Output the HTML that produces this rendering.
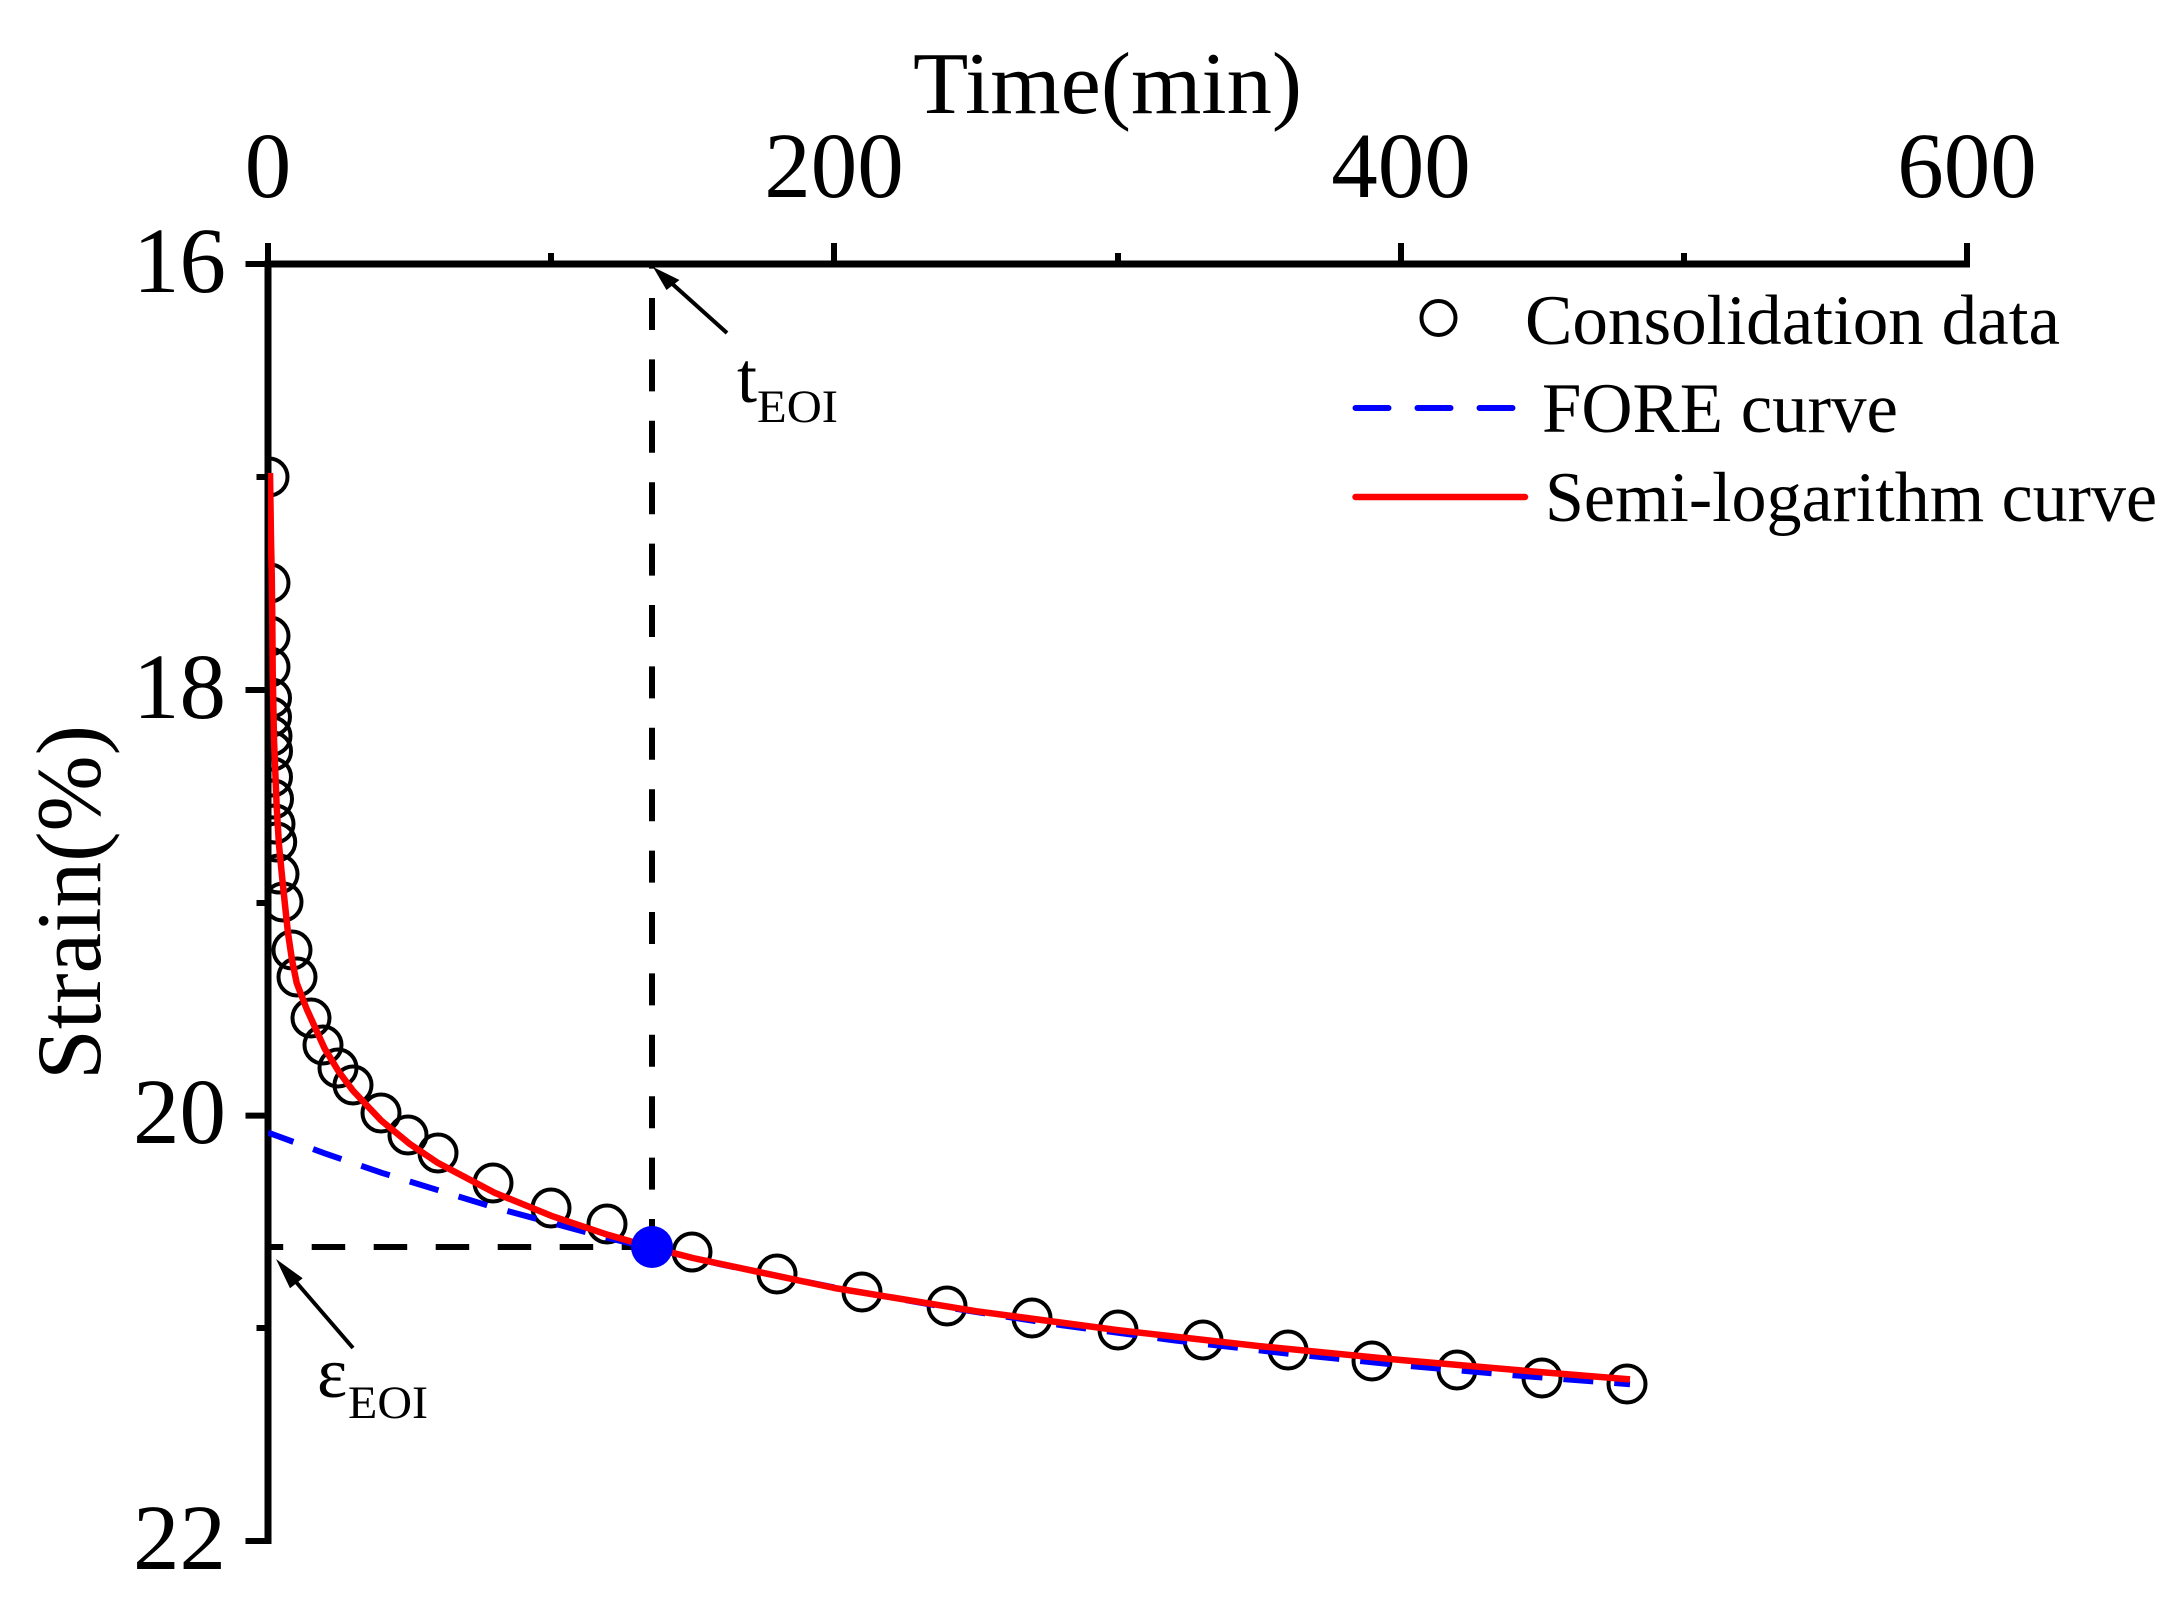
<!DOCTYPE html>
<html>
<head>
<meta charset="utf-8">
<style>
html,body{margin:0;padding:0;background:#fff;}
svg{display:block;}
text{font-family:"Liberation Serif","Times New Roman",serif;fill:#000;}
</style>
</head>
<body>
<svg width="2182" height="1615" viewBox="0 0 2182 1615" xmlns="http://www.w3.org/2000/svg">
<defs>
<clipPath id="plot"><rect x="268" y="264" width="1700" height="1280"/></clipPath>
</defs>
<rect x="0" y="0" width="2182" height="1615" fill="#fff"/>

<!-- Title -->
<text x="913" y="113" font-size="88" textLength="389" lengthAdjust="spacingAndGlyphs">Time(min)</text>

<!-- X tick labels -->
<g font-size="93" text-anchor="middle">
<text x="268" y="197">0</text>
<text x="834" y="197">200</text>
<text x="1401" y="197">400</text>
<text x="1967" y="197">600</text>
</g>

<!-- Y tick labels -->
<g font-size="93" text-anchor="end">
<text x="226" y="292">16</text>
<text x="226" y="718">18</text>
<text x="226" y="1143">20</text>
<text x="226" y="1569">22</text>
</g>

<!-- Y axis label -->
<text transform="translate(100,902.5) rotate(-90)" x="0" y="0" font-size="92" text-anchor="middle" textLength="355" lengthAdjust="spacingAndGlyphs">Strain(%)</text>

<!-- Axes -->
<g stroke="#000" fill="none">
<line x1="264.5" y1="264" x2="1970" y2="264" stroke-width="7"/>
<line x1="268" y1="260.5" x2="268" y2="1544" stroke-width="7"/>
<!-- x major ticks (upward) -->
<g stroke-width="6">
<line x1="268" y1="264" x2="268" y2="243"/>
<line x1="834" y1="264" x2="834" y2="243"/>
<line x1="1401" y1="264" x2="1401" y2="243"/>
<line x1="1967" y1="264" x2="1967" y2="243"/>
<!-- x minor -->
<line x1="551" y1="264" x2="551" y2="253"/>
<line x1="1118" y1="264" x2="1118" y2="253"/>
<line x1="1684" y1="264" x2="1684" y2="253"/>
<!-- y major ticks (left) -->
<line x1="268" y1="264" x2="245.5" y2="264"/>
<line x1="268" y1="690" x2="245.5" y2="690"/>
<line x1="268" y1="1115.6" x2="245.5" y2="1115.6"/>
<line x1="268" y1="1541" x2="245.5" y2="1541"/>
<!-- y minor -->
<line x1="268" y1="477" x2="256.5" y2="477"/>
<line x1="268" y1="903" x2="256.5" y2="903"/>
<line x1="268" y1="1328" x2="256.5" y2="1328"/>
</g>
</g>

<!-- Black dashed guide lines -->
<line x1="652" y1="264" x2="652" y2="1247" stroke="#000" stroke-width="6" stroke-dasharray="32 29.4" stroke-dashoffset="27.4"/>
<line x1="268" y1="1247" x2="652" y2="1247" stroke="#000" stroke-width="6" stroke-dasharray="33.5 28.5" stroke-dashoffset="18.3"/>

<g clip-path="url(#plot)">
<!-- Data circles -->
<g fill="none" stroke="#000" stroke-width="4">
<circle cx="269" cy="477" r="18.5"/>
<circle cx="270" cy="583" r="18.5"/>
<circle cx="270" cy="636" r="18.5"/>
<circle cx="270" cy="667" r="18.5"/>
<circle cx="271.5" cy="698" r="18.5"/>
<circle cx="271.5" cy="717" r="18.5"/>
<circle cx="272" cy="736" r="18.5"/>
<circle cx="272.5" cy="751" r="18.5"/>
<circle cx="272.5" cy="777" r="18.5"/>
<circle cx="273.5" cy="799" r="18.5"/>
<circle cx="275" cy="824" r="18.5"/>
<circle cx="276.7" cy="842" r="18.5"/>
<circle cx="279" cy="874" r="18.5"/>
<circle cx="283" cy="902" r="18.5"/>
<circle cx="292" cy="950" r="18.5"/>
<circle cx="297" cy="977" r="18.5"/>
<circle cx="311" cy="1018" r="18.5"/>
<circle cx="323" cy="1045" r="18.5"/>
<circle cx="338" cy="1068" r="18.5"/>
<circle cx="353" cy="1085" r="18.5"/>
<circle cx="381" cy="1113" r="18.5"/>
<circle cx="408" cy="1135" r="18.5"/>
<circle cx="438" cy="1153" r="18.5"/>
<circle cx="493" cy="1183" r="18.5"/>
<circle cx="551" cy="1208" r="18.5"/>
<circle cx="607" cy="1224" r="18.5"/>
<circle cx="692" cy="1252" r="18.5"/>
<circle cx="777" cy="1274" r="18.5"/>
<circle cx="862" cy="1292" r="18.5"/>
<circle cx="947" cy="1306" r="18.5"/>
<circle cx="1032" cy="1318" r="18.5"/>
<circle cx="1118" cy="1330" r="18.5"/>
<circle cx="1203" cy="1340" r="18.5"/>
<circle cx="1288" cy="1350" r="18.5"/>
<circle cx="1372" cy="1361" r="18.5"/>
<circle cx="1457" cy="1370" r="18.5"/>
<circle cx="1542" cy="1378" r="18.5"/>
<circle cx="1627" cy="1384" r="18.5"/>
</g>

<!-- FORE curve (blue dashed) -->
<polyline fill="none" stroke="#0000FF" stroke-width="6" stroke-dasharray="30 21" stroke-dashoffset="3" stroke-linejoin="round"
points="268,1132.6 324.6,1153.3 381.3,1172.7 494.6,1207.6 607.8,1238 721.1,1264.4 834.4,1287.5 947.7,1307.6 1061,1325.1 1174.2,1340.4 1287.5,1353.6 1400.8,1365.2 1514.1,1375.3 1630,1384.2"/>

<!-- Semi-log curve (red) -->
<polyline fill="none" stroke="#FF0000" stroke-width="6.5" stroke-linejoin="round" stroke-linecap="butt"
points="270,473 271,540 271.7,573 272.3,620 272.7,673 274,740 276.7,807 279,845 281.7,873 285,905 288,933 292,960 296.7,983 306.7,1009 324.6,1048.5 338.8,1071.7 353,1090.7 381.3,1120.6 409.6,1143.8 437.9,1162.9 494.6,1192.7 551.2,1215.8 607.8,1234.8 652,1247.5 692.8,1258 834.4,1288 976,1311.2 1117.6,1330.1 1259.2,1346.1 1400.8,1360 1542.4,1372.3 1630,1379.4"/>
</g>

<!-- EOI point -->
<circle cx="652" cy="1247" r="21" fill="#0000FF"/>

<!-- Arrow t_EOI -->
<line x1="727" y1="333" x2="668" y2="280" stroke="#000" stroke-width="4"/>
<polygon points="653,267 679.5,280 666.5,290" fill="#000"/>
<text x="737" y="402" font-size="72">t</text>
<text x="757" y="422" font-size="47" textLength="81" lengthAdjust="spacingAndGlyphs">EOI</text>

<!-- Arrow eps_EOI -->
<line x1="353" y1="1348" x2="290" y2="1275" stroke="#000" stroke-width="4"/>
<polygon points="276,1259 302.7,1278.3 290,1288.3" fill="#000"/>
<text x="317" y="1397" font-size="72">ε</text>
<text x="348" y="1418" font-size="47" textLength="80" lengthAdjust="spacingAndGlyphs">EOI</text>

<!-- Legend -->
<circle cx="1438.5" cy="318" r="17" fill="none" stroke="#000" stroke-width="4"/>
<text x="1525" y="344" font-size="71" textLength="535" lengthAdjust="spacingAndGlyphs">Consolidation data</text>
<line x1="1355.5" y1="408" x2="1513" y2="408" stroke="#0000FF" stroke-width="6" stroke-dasharray="33 29" stroke-linecap="round"/>
<text x="1542" y="432" font-size="71" textLength="356" lengthAdjust="spacingAndGlyphs">FORE curve</text>
<line x1="1355.5" y1="497" x2="1525" y2="497" stroke="#FF0000" stroke-width="6.5" stroke-linecap="round"/>
<text x="1545" y="521" font-size="71" textLength="612" lengthAdjust="spacingAndGlyphs">Semi-logarithm curve</text>
</svg>
</body>
</html>
